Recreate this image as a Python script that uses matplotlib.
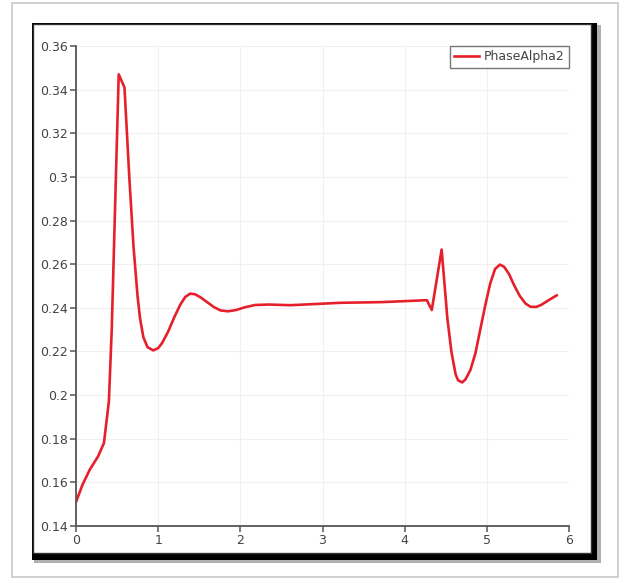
import matplotlib
matplotlib.use("Agg")
import matplotlib.pyplot as plt
from matplotlib.patches import Rectangle

# PhaseAlpha2 curve
time = [0.00, 0.08, 0.17, 0.27, 0.34, 0.40, 0.435, 0.49, 0.52, 0.59, 0.65, 0.70,
        0.75, 0.78, 0.82, 0.87, 0.94, 1.00, 1.05, 1.12, 1.20, 1.27, 1.33, 1.39,
        1.45, 1.52, 1.60, 1.68, 1.76, 1.85, 1.95, 2.05, 2.18, 2.35, 2.61, 3.22,
        3.71, 4.27, 4.33, 4.45, 4.52, 4.57, 4.62, 4.65, 4.70, 4.74, 4.80, 4.86,
        4.92, 4.98, 5.04, 5.10, 5.16, 5.21, 5.27, 5.33, 5.40, 5.47, 5.53, 5.60,
        5.66, 5.74, 5.85]
alpha = [0.151, 0.159, 0.166, 0.172, 0.178, 0.197, 0.230, 0.306, 0.347, 0.341,
         0.299, 0.268, 0.245, 0.235, 0.2265, 0.2220, 0.2205, 0.2215, 0.2240,
         0.2290, 0.2360, 0.2415, 0.2450, 0.2465, 0.2462, 0.2447, 0.2425, 0.2403,
         0.2388, 0.2384, 0.2390, 0.2402, 0.2413, 0.2415, 0.2412, 0.2423, 0.2426,
         0.2435, 0.2390, 0.2667, 0.2350, 0.2196, 0.2095, 0.2068, 0.2058, 0.2072,
         0.2115, 0.2190, 0.2300, 0.2410, 0.2510, 0.2578, 0.2598, 0.2588, 0.2555,
         0.2505, 0.2455, 0.2420, 0.2405, 0.2404, 0.2413, 0.2432, 0.2457]

yticks = [0.14, 0.16, 0.18, 0.2, 0.22, 0.24, 0.26, 0.28, 0.3, 0.32, 0.34, 0.36]
ytick_labels = ["0.14", "0.16", "0.18", "0.2", "0.22", "0.24", "0.26", "0.28",
                "0.3", "0.32", "0.34", "0.36"]
xticks = [0, 1, 2, 3, 4, 5, 6]

W, H = 625, 583
fig = plt.figure(figsize=(W / 100, H / 100), dpi=100)


def px_rect(x0, y0, x1, y1, **kw):
    # rectangle given in pixel coords (origin top-left)
    r = Rectangle((x0 / W, 1 - y1 / H), (x1 - x0) / W, (y1 - y0) / H,
                  transform=fig.transFigure, **kw)
    fig.add_artist(r)


# screenshot frame
px_rect(12, 3, 618, 577, facecolor="white", edgecolor="#c8c8c8", linewidth=1.2, zorder=0)
px_rect(34, 25, 601, 563, facecolor="#b0b0b0", edgecolor="none", zorder=0)
px_rect(32, 23, 597, 560, facecolor="black", edgecolor="none", zorder=0)
px_rect(33, 24, 591, 553, facecolor="white", edgecolor="#333333", linewidth=1.0, zorder=0)

ax = fig.add_axes([76 / W, 1 - 526 / H, (569 - 76) / W, (526 - 46) / H])
ax.patch.set_alpha(0)

ax.plot(time, alpha, color="#e5202b", linewidth=1.9, label="PhaseAlpha2")

ax.set_xlim(0, 6)
ax.set_ylim(0.14, 0.36)
ax.set_xticks(xticks)
ax.set_yticks(yticks)
ax.set_yticklabels(ytick_labels)

for side in ["top", "right"]:
    ax.spines[side].set_visible(False)
for side in ["left", "bottom"]:
    ax.spines[side].set_color("#555555")
    ax.spines[side].set_linewidth(1.3)
ax.tick_params(direction="out", length=4, width=1.1, color="#555555",
               labelcolor="#444444", labelsize=9, pad=2)
ax.grid(True, color="#f0f0f0", linewidth=0.8)
ax.set_axisbelow(True)

leg = ax.legend(loc="upper right", fontsize=9, frameon=True, fancybox=False,
                handlelength=2.0, borderaxespad=0.0, borderpad=0.35,
                handletextpad=0.4)
leg.get_frame().set_edgecolor("#555555")
leg.get_frame().set_linewidth(1.0)
for t in leg.get_texts():
    t.set_color("#444444")

fig.savefig("out.png", dpi=100)
